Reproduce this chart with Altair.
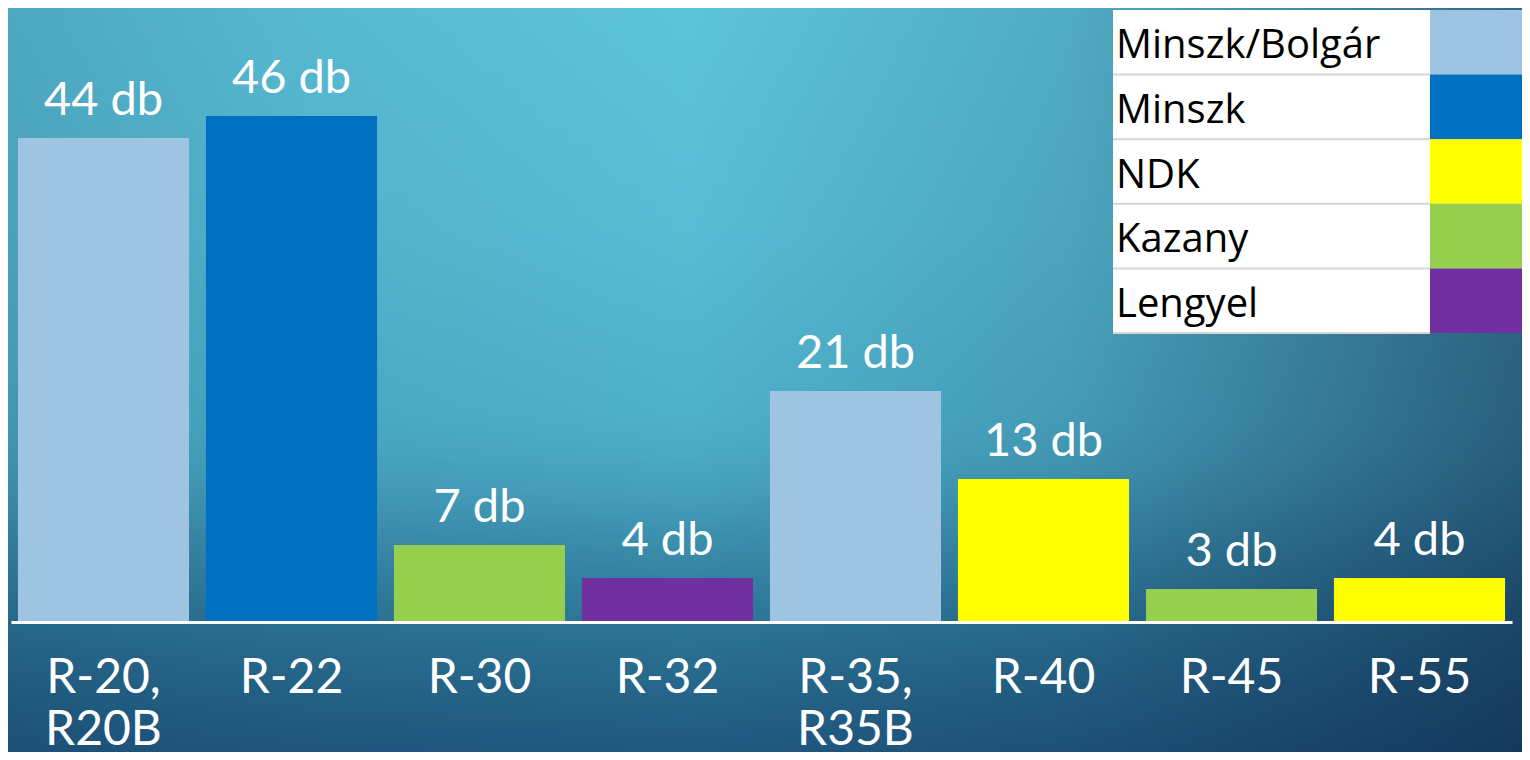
import altair as alt
import pandas as pd

# ---- data ----
types = ["R-20,\nR20B", "R-22", "R-30", "R-32", "R-35,\nR35B", "R-40", "R-45", "R-55"]
counts = [44, 46, 7, 4, 21, 13, 3, 4]
origins = ["Minszk/Bolgár", "Minszk", "Kazany", "Lengyel", "Minszk/Bolgár", "NDK", "Kazany", "NDK"]
unit = "db"

legend_names = ["Minszk/Bolgár", "Minszk", "NDK", "Kazany", "Lengyel"]
legend_colors = ["#9fc4e2", "#0070c0", "#ffff00", "#96cf4e", "#7030a0"]

df = pd.DataFrame({"type": types, "count": counts, "origin": origins})
df["label"] = [f"{c} {unit}" for c in counts]
leg = pd.DataFrame({"origin": legend_names})

# ---- layout constants (styling only) ----
W, H = 1501, 614
PAD = {"left": 3, "top": 0, "right": 10, "bottom": 130}
YMAX = H / 11.0

color_scale = alt.Scale(domain=legend_names, range=legend_colors)

one = pd.DataFrame({"a": [0]})
bg_box = dict(
    x=alt.value(-PAD["left"]), x2=alt.value(W + PAD["right"]),
    y=alt.value(0), y2=alt.value(H + PAD["bottom"]),
)
bg = alt.Chart(one).mark_rect(
    fill={
        "gradient": "linear", "x1": 0, "y1": 0, "x2": 0, "y2": 1,
        "stops": [
            {"offset": 0.0, "color": "#5cc4da"},
            {"offset": 0.3, "color": "#58bcd4"},
            {"offset": 0.55, "color": "#4eb0ca"},
            {"offset": 0.65, "color": "#47a3bf"},
            {"offset": 0.75, "color": "#3a8fae"},
            {"offset": 0.85, "color": "#2f7d9e"},
            {"offset": 1.0, "color": "#266790"},
        ],
    }
).encode(**bg_box)
bg_shade = alt.Chart(one).mark_rect(
    fill={
        "gradient": "linear", "x1": 0, "y1": 0, "x2": 1, "y2": 0,
        "stops": [
            {"offset": 0.0, "color": "rgba(10,40,80,0.18)"},
            {"offset": 0.2, "color": "rgba(10,40,80,0.07)"},
            {"offset": 0.45, "color": "rgba(10,40,80,0.0)"},
            {"offset": 0.7, "color": "rgba(10,30,64,0.15)"},
            {"offset": 0.85, "color": "rgba(10,30,64,0.35)"},
            {"offset": 1.0, "color": "rgba(10,30,64,0.55)"},
        ],
    }
).encode(**bg_box)
bg_bottom = alt.Chart(one).mark_rect(
    fill={
        "gradient": "linear", "x1": 0, "y1": 0, "x2": 0, "y2": 1,
        "stops": [
            {"offset": 0.0, "color": "rgba(10,30,64,0.0)"},
            {"offset": 0.6, "color": "rgba(10,30,64,0.0)"},
            {"offset": 1.0, "color": "rgba(10,30,64,0.2)"},
        ],
    }
).encode(**bg_box)

x_enc = alt.X(
    "type:N",
    sort=None,
    scale=alt.Scale(paddingInner=0.09, paddingOuter=0.037),
    axis=alt.Axis(
        title=None,
        ticks=False,
        domain=True,
        domainColor="white",
        domainWidth=3,
        labelAngle=0,
        labelColor="white",
        labelFont="Lato",
        labelFontSize=48,
        labelPadding=32,
        labelLineHeight=52,
        labelAlign="center",
        labelBaseline="top",
        labelExpr="split(datum.label, '\\n')",
        grid=False,
        zindex=2,
    ),
)
y_enc = alt.Y("count:Q", scale=alt.Scale(domain=[0, YMAX], nice=False, zero=True), axis=None)

bars = alt.Chart(df).mark_bar().encode(
    x=x_enc,
    y=y_enc,
    color=alt.Color("origin:N", scale=color_scale, legend=None),
)
labels = alt.Chart(df).mark_text(
    color="white", font="Lato", fontSize=47, baseline="alphabetic", dy=-23
).encode(x=x_enc, y=y_enc, text="label:N")

main = alt.layer(bars, labels)

# ---- table-style legend (top right) ----
ly = alt.Y(
    "origin:N", sort=legend_names,
    scale=alt.Scale(range=[2, 325], paddingInner=0, paddingOuter=0),
    axis=None,
)
leg_white = alt.Chart(leg).mark_rect(color="white").encode(
    x=alt.value(1102), x2=alt.value(1514), y=ly
)
leg_swatch = alt.Chart(leg).mark_rect().encode(
    x=alt.value(1419), x2=alt.value(1514), y=ly,
    color=alt.Color("origin:N", scale=color_scale, legend=None),
)
leg_rule = alt.Chart(leg).mark_rule(color="#d6d6d6", strokeWidth=2).encode(
    x=alt.value(1102), x2=alt.value(1419),
    y=alt.Y("origin:N", sort=legend_names, bandPosition=1,
            scale=alt.Scale(range=[2, 325], paddingInner=0, paddingOuter=0), axis=None),
)
leg_text = alt.Chart(leg).mark_text(
    align="left", baseline="alphabetic", dy=16, font="Open Sans", fontSize=40, color="black"
).encode(x=alt.value(1105), y=ly, text="origin:N")

legend_layer = alt.layer(leg_white, leg_swatch, leg_rule, leg_text)

chart = (
    alt.layer(bg, bg_shade, bg_bottom, main, legend_layer)
    .resolve_scale(y="independent")
    .properties(width=W, height=H, padding=PAD, autosize="none", background="#2f7e9e")
    .configure_view(stroke=None)
)

chart.save("out.html", embed_options={"renderer": "svg", "actions": False})
